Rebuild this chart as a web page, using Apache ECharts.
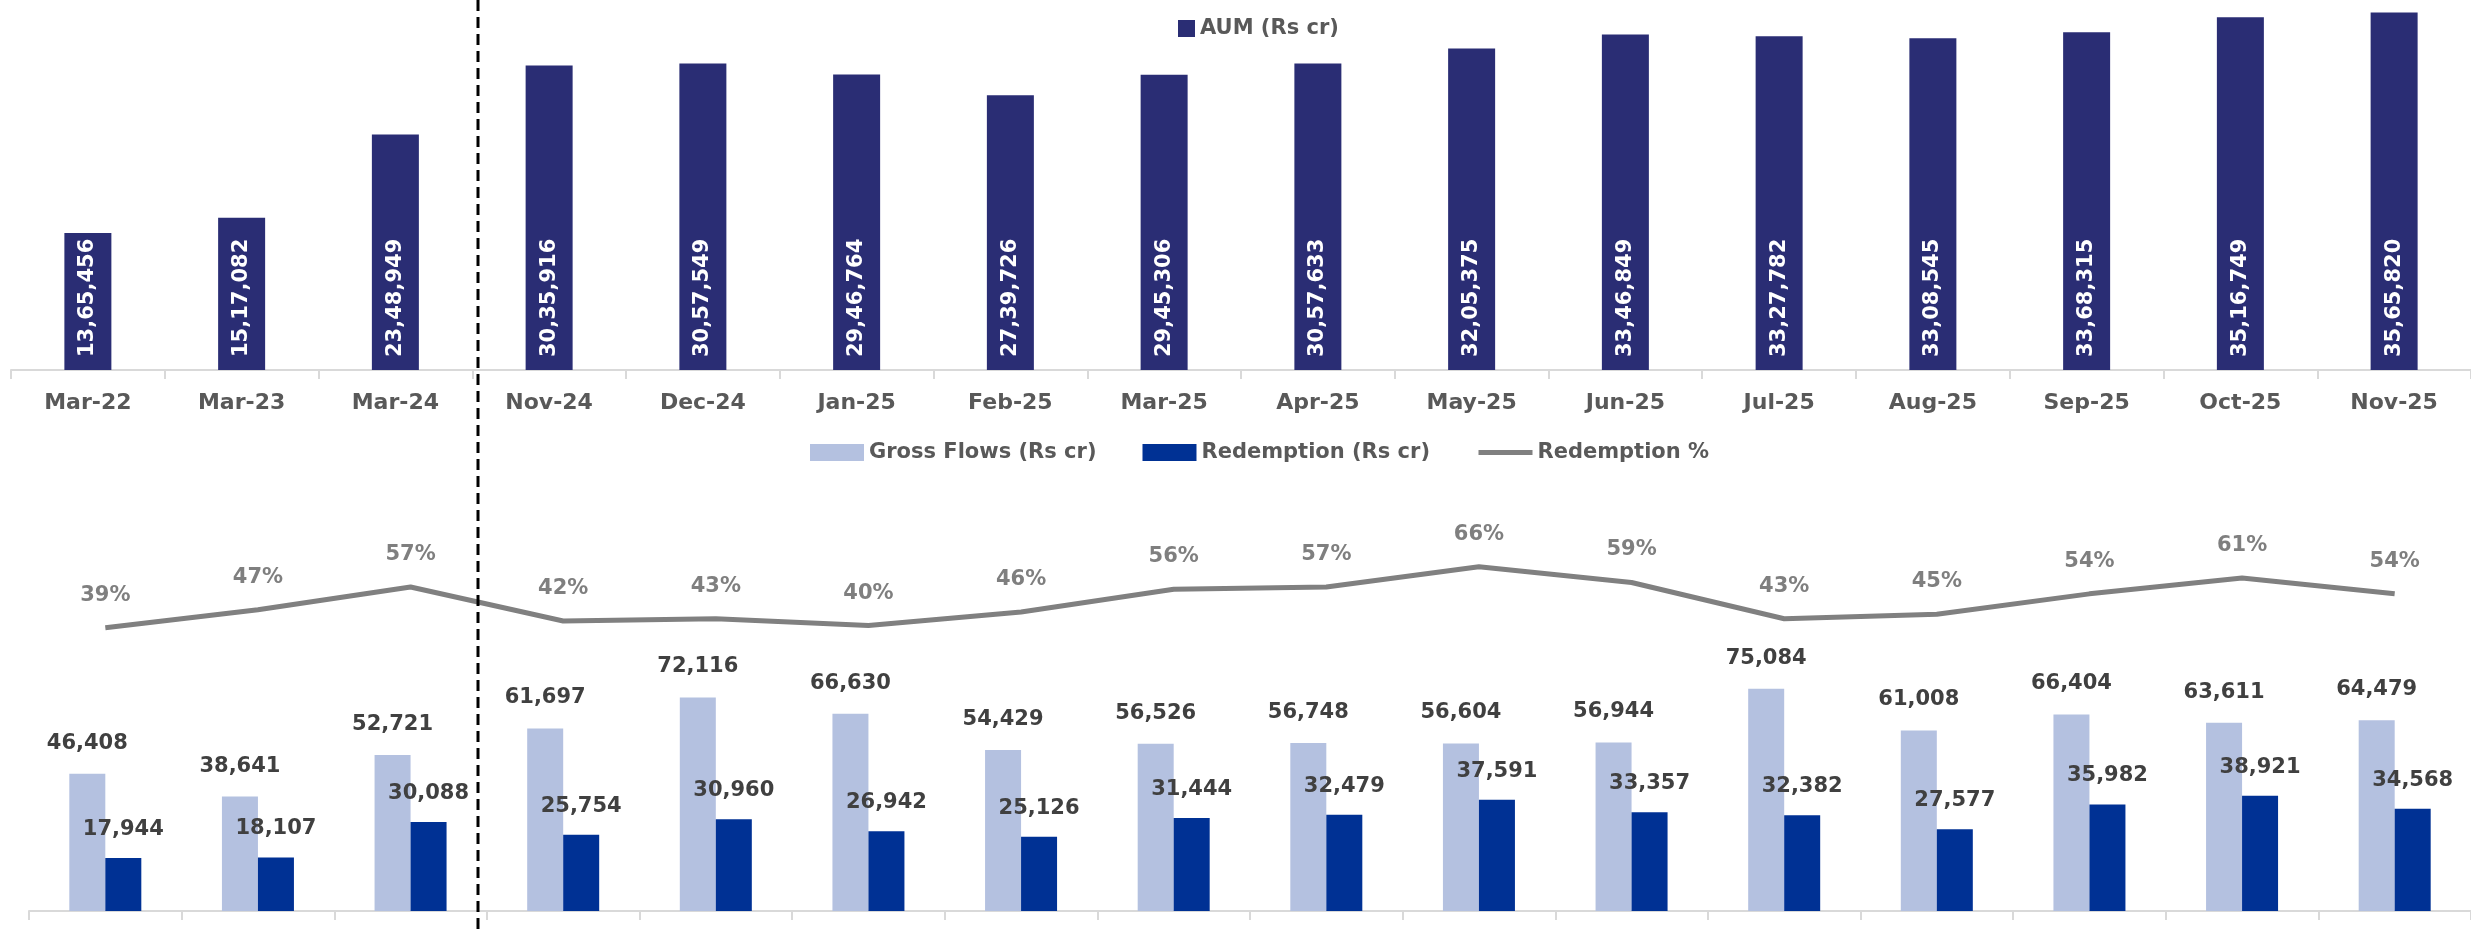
<!DOCTYPE html>
<html>
<head>
<meta charset="utf-8">
<title>AUM, Gross Flows and Redemption</title>
<script src="https://cdn.jsdelivr.net/npm/echarts@6/dist/echarts.min.js"></script>
<style>
  html, body { margin: 0; padding: 0; background: #fff; }
  #chart { width: 2471px; height: 929px; }
</style>
</head>
<body>
<div id="chart"></div>
<script>
// 类目
const months = ['Mar-22', 'Mar-23', 'Mar-24', 'Nov-24', 'Dec-24', 'Jan-25', 'Feb-25', 'Mar-25',
  'Apr-25', 'May-25', 'Jun-25', 'Jul-25', 'Aug-25', 'Sep-25', 'Oct-25', 'Nov-25']

// AUM (Rs cr)
const aum = [1365456, 1517082, 2348949, 3035916, 3057549, 2946764, 2739726, 2945306,
  3057633, 3205375, 3346849, 3327782, 3308545, 3368315, 3516749, 3565820]

// Gross Flows / Redemption (Rs cr)
const grossFlows = [46408, 38641, 52721, 61697, 72116, 66630, 54429, 56526,
  56748, 56604, 56944, 75084, 61008, 66404, 63611, 64479]
const redemption = [17944, 18107, 30088, 25754, 30960, 26942, 25126, 31444,
  32479, 37591, 33357, 32382, 27577, 35982, 38921, 34568]

// Redemption %
const redemptionPct = [39, 47, 57, 42, 43, 40, 46, 56, 57, 66, 59, 43, 45, 54, 61, 54]

const FONT = '"DejaVu Sans", sans-serif'

// 印度式千分位 13,65,456
const fmtIN = v => {
  const s = String(Math.round(v))
  if (s.length <= 3) return s
  const rest = s.slice(0, -3).replace(/\B(?=(\d{2})+(?!\d))/g, ',')
  return rest + ',' + s.slice(-3)
}

const legendText = { fontFamily: FONT, fontSize: 21, fontWeight: 'bold', color: '#595959' }

const chart = echarts.init(document.getElementById('chart'))

chart.setOption({
  animation: false,
  textStyle: { fontFamily: FONT },
  legend: [
    {
      data: [{ name: 'AUM (Rs cr)', icon: 'rect' }],
      left: 1173, top: 13,
      itemWidth: 17, itemHeight: 17,
      textStyle: legendText
    },
    {
      data: [
        { name: 'Gross Flows (Rs cr)', icon: 'rect' },
        { name: 'Redemption (Rs cr)', icon: 'rect' },
        { name: 'Redemption %', itemStyle: { opacity: 0 } }
      ],
      left: 805, top: 437, itemGap: 46,
      itemWidth: 54, itemHeight: 17,
      lineStyle: { width: 5 },
      textStyle: legendText
    }
  ],
  grid: [
    { left: 11, width: 2470, top: 9, bottom: 559 },
    { left: 29, width: 2445, top: 467, bottom: 18 }
  ],
  xAxis: [
    {
      type: 'category', gridIndex: 0, data: months,
      axisLine: { lineStyle: { color: '#d9d9d9', width: 2 } },
      axisTick: { show: true, length: 9, lineStyle: { color: '#d9d9d9', width: 2 } },
      axisLabel: { margin: 22, fontFamily: FONT, fontSize: 22, fontWeight: 'bold', color: '#595959' }
    },
    {
      type: 'category', gridIndex: 1, data: months,
      axisLine: { lineStyle: { color: '#d9d9d9', width: 2 } },
      axisTick: { show: true, length: 9, lineStyle: { color: '#d9d9d9', width: 2 } },
      axisLabel: { show: false }
    }
  ],
  yAxis: [
    { type: 'value', gridIndex: 0, min: 0, max: 3600000, show: false, splitLine: { show: false } },
    { type: 'value', gridIndex: 1, min: 0, max: 150000, show: false, splitLine: { show: false } },
    { type: 'value', gridIndex: 1, min: -86, max: 110, show: false, splitLine: { show: false } }
  ],
  series: [
    {
      name: 'AUM (Rs cr)', type: 'bar', xAxisIndex: 0, yAxisIndex: 0,
      data: aum, barWidth: 47,
      itemStyle: { color: '#2a2d74' },
      label: {
        show: true, position: 'insideBottom', rotate: 90, align: 'left', verticalAlign: 'middle',
        distance: 13, fontFamily: FONT, fontSize: 21, fontWeight: 'bold', color: '#fff',
        formatter: p => fmtIN(p.value)
      }
    },
    {
      name: 'Gross Flows (Rs cr)', type: 'bar', xAxisIndex: 1, yAxisIndex: 1,
      data: grossFlows, barWidth: 36, barGap: '0%',
      itemStyle: { color: '#b4c1e0' },
      label: {
        show: true, position: 'top', distance: 20,
        fontFamily: FONT, fontSize: 21, fontWeight: 'bold', color: '#404040',
        formatter: p => fmtIN(p.value)
      }
    },
    {
      name: 'Redemption (Rs cr)', type: 'bar', xAxisIndex: 1, yAxisIndex: 1,
      data: redemption, barWidth: 36, barGap: '0%',
      itemStyle: { color: '#003194' },
      label: {
        show: true, position: 'top', distance: 18,
        fontFamily: FONT, fontSize: 21, fontWeight: 'bold', color: '#404040',
        formatter: p => fmtIN(p.value)
      }
    },
    {
      name: 'Redemption %', type: 'line', xAxisIndex: 1, yAxisIndex: 2,
      data: redemptionPct, symbol: 'circle', symbolSize: 0, showSymbol: true,
      lineStyle: { color: '#808080', width: 5 },
      itemStyle: { color: '#808080' },
      label: {
        show: true, position: 'top', distance: 22,
        fontFamily: FONT, fontSize: 21, fontWeight: 'bold', color: '#7f7f7f',
        formatter: '{c}%'
      }
    }
  ],
  // 分隔虚线
  graphic: [{
    type: 'line', z: 100,
    shape: { x1: 478, y1: 0, x2: 478, y2: 929 },
    style: { stroke: '#000', lineWidth: 3, lineDash: [11, 6] }
  }]
})
</script>
</body>
</html>
